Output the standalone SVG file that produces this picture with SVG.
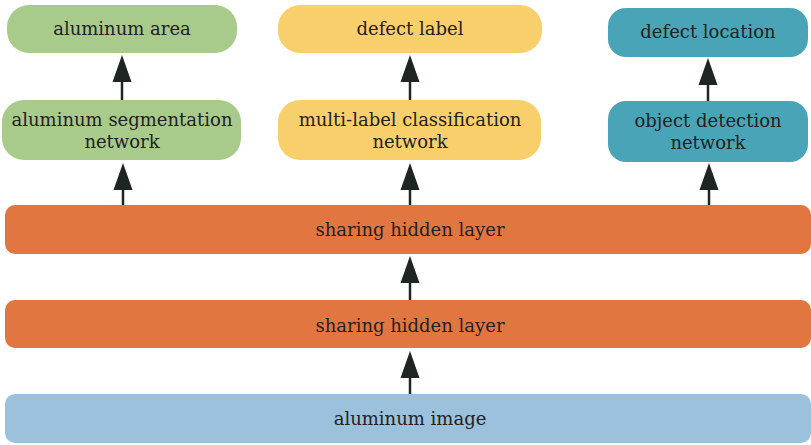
<svg xmlns="http://www.w3.org/2000/svg" width="811" height="445" viewBox="0 0 811 445">
<style>
text{font-family:"DejaVu Serif","Liberation Serif",serif;font-size:18px;fill:#222;text-anchor:middle}
.g{fill:#a8ca8b}.y{fill:#f8cf6b}.t{fill:#4aa4b8}.o{fill:#e27641}.b{fill:#9cc1dc}
.c line{stroke:#1f2522;stroke-width:2.5}
.c polygon{fill:#1f2522}
</style>
<rect width="811" height="445" fill="#fff"/>
<g id="aluminum-area"><rect class="g" x="7" y="5" width="230" height="48" rx="22"/><text x="122" y="35">aluminum area</text></g>
<g id="defect-label"><rect class="y" x="278" y="5" width="264" height="48" rx="22"/><text x="410" y="35">defect label</text></g>
<g id="defect-location"><rect class="t" x="608" y="8" width="200" height="49" rx="18"/><text x="708" y="38">defect location</text></g>
<g id="aluminum-segmentation-network"><rect class="g" x="2" y="100" width="239" height="60" rx="22"/><text x="122" y="126">aluminum segmentation</text><text x="122" y="148">network</text></g>
<g id="multi-label-classification-network"><rect class="y" x="278" y="100" width="263" height="60" rx="22"/><text x="410" y="126">multi-label classification</text><text x="410" y="148">network</text></g>
<g id="object-detection-network"><rect class="t" x="608" y="101" width="200" height="61" rx="18"/><text x="708" y="127">object detection</text><text x="708" y="149">network</text></g>
<g id="sharing-hidden-layer-1"><rect class="o" x="5" y="205" width="806" height="49" rx="10"/><text x="410" y="236">sharing hidden layer</text></g>
<g id="sharing-hidden-layer-2"><rect class="o" x="5" y="300" width="806" height="48" rx="10"/><text x="410" y="332">sharing hidden layer</text></g>
<g id="aluminum-image"><rect class="b" x="5" y="394" width="806" height="49" rx="10"/><text x="410" y="425">aluminum image</text></g>
<g id="connectors" class="c">
<line x1="122" y1="100" x2="122" y2="80"/><polygon points="122,55 112.5,82 131.5,82"/>
<line x1="410" y1="100" x2="410" y2="80"/><polygon points="410,55 400.5,82 419.5,82"/>
<line x1="708" y1="101" x2="708" y2="83"/><polygon points="708,58 698.5,85 717.5,85"/>
<line x1="123" y1="205" x2="123" y2="188"/><polygon points="123,163 113.5,190 132.5,190"/>
<line x1="410" y1="205" x2="410" y2="188"/><polygon points="410,163 400.5,190 419.5,190"/>
<line x1="709" y1="205" x2="709" y2="188"/><polygon points="709,163 699.5,190 718.5,190"/>
<line x1="410" y1="300" x2="410" y2="281"/><polygon points="410,256 400.5,283 419.5,283"/>
<line x1="410" y1="394" x2="410" y2="376"/><polygon points="410,351 400.5,378 419.5,378"/>
</g>
</svg>
